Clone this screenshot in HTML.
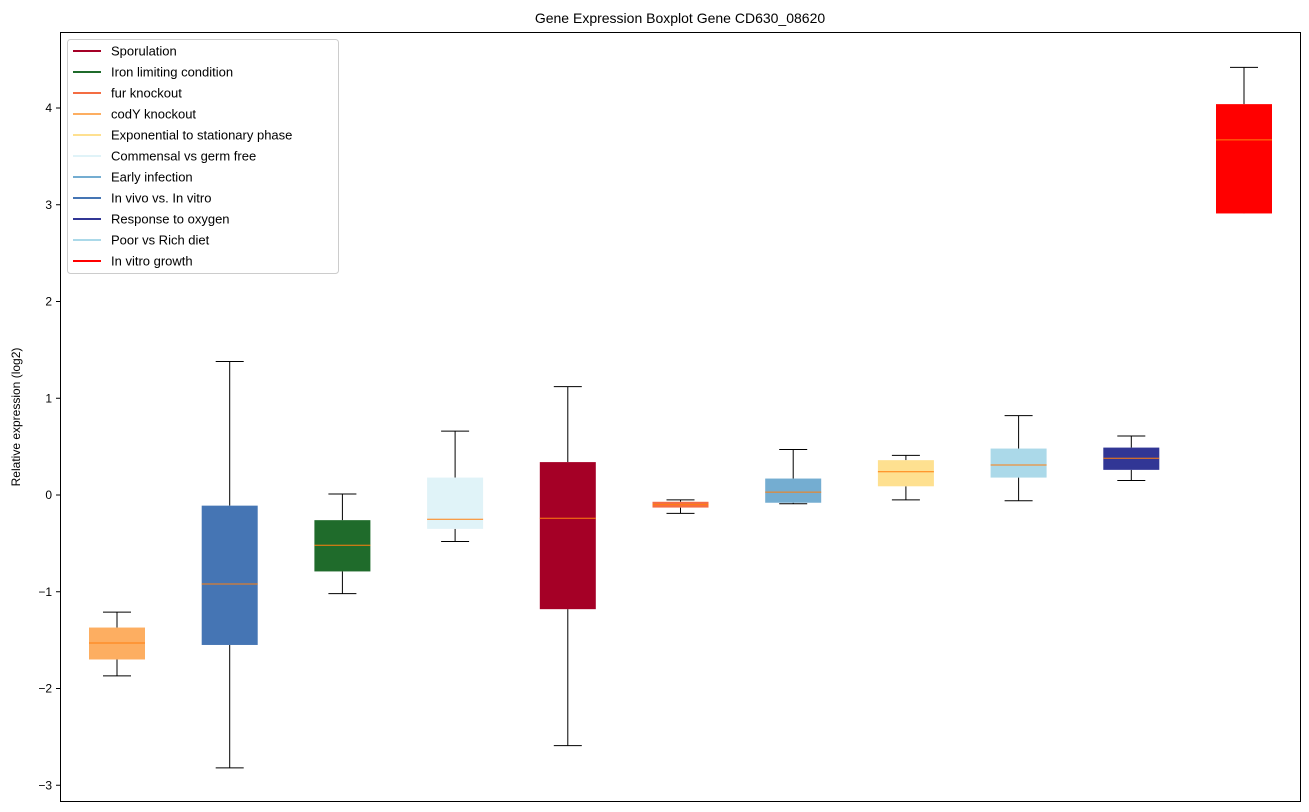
<!DOCTYPE html>
<html><head><meta charset="utf-8"><style>
html,body{margin:0;padding:0;background:#fff;}
svg{display:block;font-family:"Liberation Sans","DejaVu Sans",sans-serif;}
</style></head><body>
<svg id="chart" width="1309" height="812">
<text x="680" y="23" font-size="14" text-anchor="middle">Gene Expression Boxplot Gene CD630_08620</text>
<text transform="translate(20,417) rotate(-90)" font-size="12" text-anchor="middle">Relative expression (log2)</text>
<g id="boxes"></g>
<rect x="60.5" y="32.5" width="1240" height="769" fill="none" stroke="#000" stroke-width="1"/>
<g id="yticks"></g>
<g id="legend"></g>
</svg>
<script>
const categories = ["codY knockout","In vivo vs. In vitro","Iron limiting condition","Commensal vs germ free","Sporulation","fur knockout","Early infection","Exponential to stationary phase","Poor vs Rich diet","Response to oxygen","In vitro growth"];
const whiskerHigh = [-1.21,1.38,0.01,0.66,1.12,-0.05,0.47,0.41,0.82,0.61,4.42];
const q3Values = [-1.37,-0.11,-0.26,0.18,0.34,-0.07,0.17,0.36,0.48,0.49,4.04];
const medianValues = [-1.53,-0.92,-0.52,-0.25,-0.24,-0.10,0.03,0.24,0.31,0.38,3.67];
const q1Values = [-1.70,-1.55,-0.79,-0.35,-1.18,-0.13,-0.08,0.09,0.18,0.26,2.91];
const whiskerLow = [-1.87,-2.82,-1.02,-0.48,-2.59,-0.19,-0.09,-0.05,-0.06,0.15,2.92];
const boxColors = ["#fdae61","#4575b4","#1f6b2b","#e0f3f8","#a50026","#f46d43","#74add1","#fee090","#abd9e9","#313695","#ff0000"];
const legendLabels = ["Sporulation","Iron limiting condition","fur knockout","codY knockout","Exponential to stationary phase","Commensal vs germ free","Early infection","In vivo vs. In vitro","Response to oxygen","Poor vs Rich diet","In vitro growth"];
const legendColors = ["#a50026","#1f6b2b","#f46d43","#fdae61","#fee090","#e0f3f8","#74add1","#4575b4","#313695","#abd9e9","#ff0000"];
const yTicks = [-3,-2,-1,0,1,2,3,4];

const NS="http://www.w3.org/2000/svg";
const y = v => 495 - v*96.75;
const x = i => 117 + i*112.7;
function mk(tag, attrs, parent){const e=document.createElementNS(NS,tag);for(const k in attrs)e.setAttribute(k,attrs[k]);parent.appendChild(e);return e;}

const gb=document.getElementById('boxes');
categories.forEach((c,i)=>{
  const g=mk('g',{},gb);
  
  
  const cx=x(i), hw=28, cw=14;
  mk('line',{x1:cx,x2:cx,y1:y(whiskerHigh[i]),y2:y(q3Values[i]),stroke:'#000'},g);
  mk('line',{x1:cx,x2:cx,y1:y(q1Values[i]),y2:y(whiskerLow[i]),stroke:'#000'},g);
  mk('line',{x1:cx-cw,x2:cx+cw,y1:y(whiskerHigh[i]),y2:y(whiskerHigh[i]),stroke:'#000'},g);
  mk('line',{x1:cx-cw,x2:cx+cw,y1:y(whiskerLow[i]),y2:y(whiskerLow[i]),stroke:'#000'},g);
  mk('rect',{x:cx-hw,y:y(q3Values[i]),width:2*hw,height:y(q1Values[i])-y(q3Values[i]),fill:boxColors[i]},g);
  mk('line',{x1:cx-hw,x2:cx+hw,y1:y(medianValues[i]),y2:y(medianValues[i]),stroke:'#ff7f0e'},g);
});

const gt=document.getElementById('yticks');
yTicks.forEach(t=>{
  const g=mk('g',{},gt);
  
  
  mk('line',{x1:56,x2:60,y1:y(t),y2:y(t),stroke:'#000'},g);
  const tx=mk('text',{x:52,y:y(t)+4,'font-size':12,'text-anchor':'end'},g);
  tx.textContent=(t<0?'\u2212'+(-t):String(t));
});

const gl=document.getElementById('legend');


mk('rect',{x:67.5,y:39.5,width:271,height:234,rx:3,fill:'#fff',stroke:'#ccc'},gl);
legendLabels.forEach((l,i)=>{
  const g=mk('g',{},gl);
  
  
  const yy=51+i*21;
  mk('line',{x1:73,x2:101,y1:yy,y2:yy,stroke:legendColors[i],'stroke-width':2},g);
  const t=mk('text',{x:111,y:yy+4.5,'font-size':13},g);
  t.textContent=l;
});
</script>
</body></html>
